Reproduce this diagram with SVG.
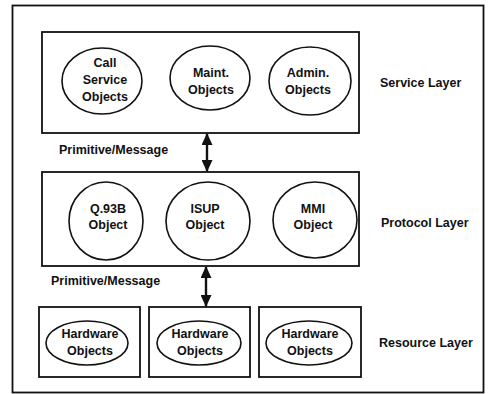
<svg xmlns="http://www.w3.org/2000/svg" width="492" height="394" viewBox="0 0 492 394">
<style>
.box{fill:none;stroke:#111;stroke-width:1.8}
.obj{fill:#fff;stroke:#111;stroke-width:1.6}
text{font-family:"Liberation Sans",Arial,sans-serif;font-weight:bold;font-size:12.5px;fill:#111}
.c{text-anchor:middle}
.conn{stroke:#111;stroke-width:2.4;fill:none}
</style>
<defs>
<marker id="ah" viewBox="0 0 12 11" refX="11" refY="5.5" markerWidth="12" markerHeight="11" markerUnits="userSpaceOnUse" orient="auto-start-reverse">
<path d="M0,0 L12,5.5 L0,11 Z" fill="#111"/>
</marker>
</defs>
<rect width="492" height="394" fill="#fff"/>
<rect id="frame" class="box" x="12.5" y="5.5" width="471" height="387"/>

<g id="service-layer">
<rect class="box" x="42" y="32" width="317" height="101"/>
<text x="380" y="87">Service Layer</text>
</g>
<g id="call-service">
<ellipse class="obj" cx="102" cy="81" rx="40" ry="33"/>
<text class="c" x="105" y="67">Call</text>
<text class="c" x="105" y="84">Service</text>
<text class="c" x="105" y="101">Objects</text>
</g>
<g id="maint">
<ellipse class="obj" cx="210" cy="78" rx="40" ry="32"/>
<text class="c" x="211" y="77">Maint.</text>
<text class="c" x="211" y="94">Objects</text>
</g>
<g id="admin">
<ellipse class="obj" cx="310" cy="81" rx="41" ry="34"/>
<text class="c" x="308" y="77">Admin.</text>
<text class="c" x="308" y="94">Objects</text>
</g>

<g id="protocol-layer">
<rect class="box" x="42" y="172" width="317" height="94"/>
<text x="381" y="227">Protocol Layer</text>
</g>
<g id="q93b">
<ellipse class="obj" cx="106" cy="221" rx="37" ry="39"/>
<text class="c" x="108" y="213">Q.93B</text>
<text class="c" x="108" y="229">Object</text>
</g>
<g id="isup">
<ellipse class="obj" cx="208" cy="221" rx="42" ry="39"/>
<text class="c" x="205" y="213">ISUP</text>
<text class="c" x="205" y="229">Object</text>
</g>
<g id="mmi">
<ellipse class="obj" cx="315" cy="220" rx="42" ry="38"/>
<text class="c" x="313" y="213">MMI</text>
<text class="c" x="313" y="229">Object</text>
</g>

<g id="hw1">
<rect class="box" x="39" y="307" width="101" height="70"/>
<ellipse class="obj" cx="87" cy="343" rx="41" ry="22"/>
<text class="c" x="90" y="338">Hardware</text>
<text class="c" x="90" y="355">Objects</text>
</g>
<g id="hw2">
<rect class="box" x="149" y="307" width="101" height="70"/>
<ellipse class="obj" cx="199" cy="343" rx="42" ry="22"/>
<text class="c" x="200" y="338">Hardware</text>
<text class="c" x="200" y="355">Objects</text>
</g>
<g id="hw3">
<rect class="box" x="259" y="307" width="102" height="70"/>
<ellipse class="obj" cx="309" cy="343" rx="43" ry="22"/>
<text class="c" x="310" y="338">Hardware</text>
<text class="c" x="310" y="355">Objects</text>
</g>
<text id="resource-label" x="379" y="347">Resource Layer</text>

<g id="connectors">
<line class="conn" x1="207" y1="134" x2="207" y2="171" marker-start="url(#ah)" marker-end="url(#ah)"/>
<text x="59" y="154">Primitive/Message</text>
<line class="conn" x1="206" y1="267" x2="206" y2="306" marker-start="url(#ah)" marker-end="url(#ah)"/>
<text x="51" y="285">Primitive/Message</text>
</g>
</svg>
